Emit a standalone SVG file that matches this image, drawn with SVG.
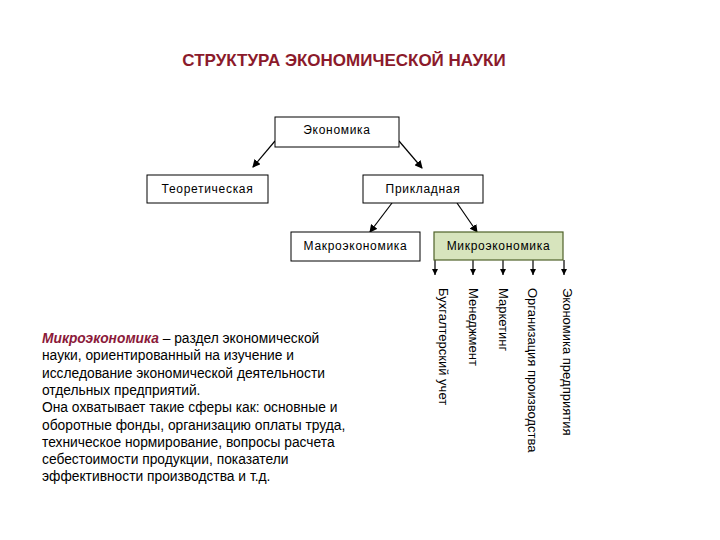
<svg xmlns="http://www.w3.org/2000/svg" width="720" height="540" viewBox="0 0 720 540">
<defs>
<style>
.box{fill:#ffffff;stroke:#000000;stroke-width:1}
.micro{fill:#d7e4bd;stroke:#4f6228;stroke-width:1.2}
.lbl{font-family:"Liberation Sans",Arial,sans-serif;font-size:12px;letter-spacing:0.7px;fill:#000;text-anchor:middle}
.vt{font-family:"Liberation Sans",Arial,sans-serif;font-size:13px;fill:#000}
.body{font-family:"Liberation Sans",Arial,sans-serif;font-size:13.8px;fill:#000}
.title{font-family:"Liberation Sans",Arial,sans-serif;font-size:17px;font-weight:bold;fill:#8b1a2b;text-anchor:middle}
.con{stroke:#000;stroke-width:1.2;fill:none}
</style>
<marker id="ah" markerWidth="8" markerHeight="8" refX="7" refY="4" orient="auto" markerUnits="userSpaceOnUse">
<path d="M0,0 L8,4 L0,8 Z" fill="#000"/>
</marker>
<marker id="ahs" markerWidth="6" markerHeight="6" refX="6" refY="3" orient="auto" markerUnits="userSpaceOnUse">
<path d="M0,0 L6,3 L0,6 Z" fill="#000"/>
</marker>
</defs>
<rect width="720" height="540" fill="#ffffff"/>
<text class="title" x="344" y="66">СТРУКТУРА ЭКОНОМИЧЕСКОЙ НАУКИ</text>

<g id="connectors">
<line class="con" x1="275" y1="141" x2="253" y2="167" marker-end="url(#ah)"/>
<line class="con" x1="399" y1="141" x2="422" y2="168" marker-end="url(#ah)"/>
<line class="con" x1="392" y1="203" x2="370" y2="232" marker-end="url(#ah)"/>
<line class="con" x1="457" y1="203" x2="477" y2="232" marker-end="url(#ah)"/>
<line class="con" x1="435" y1="260" x2="435" y2="275" marker-end="url(#ahs)"/>
<line class="con" x1="473" y1="260" x2="473" y2="275" marker-end="url(#ahs)"/>
<line class="con" x1="503" y1="260" x2="503" y2="275" marker-end="url(#ahs)"/>
<line class="con" x1="533" y1="260" x2="533" y2="275" marker-end="url(#ahs)"/>
<line class="con" x1="564" y1="260" x2="564" y2="275" marker-end="url(#ahs)"/>
</g>

<g id="n-economika">
<rect class="box" x="275" y="117" width="124" height="30"/>
<text class="lbl" x="337" y="134">Экономика</text>
</g>
<g id="n-teor">
<rect class="box" x="147" y="175" width="121" height="28"/>
<text class="lbl" x="207.5" y="193">Теоретическая</text>
</g>
<g id="n-prikl">
<rect class="box" x="363" y="175" width="120" height="28"/>
<text class="lbl" x="423" y="193">Прикладная</text>
</g>
<g id="n-makro">
<rect class="box" x="291" y="232" width="129" height="29"/>
<text class="lbl" x="355.5" y="250">Макроэкономика</text>
</g>
<g id="n-mikro">
<rect class="micro" x="434" y="232" width="129" height="28"/>
<text class="lbl" x="498.5" y="250">Микроэкономика</text>
</g>

<g id="n-buh"><text class="vt" transform="translate(439,288) rotate(90)">Бухгалтерский учет</text></g>
<g id="n-men"><text class="vt" transform="translate(469,288) rotate(90)">Менеджмент</text></g>
<g id="n-mark"><text class="vt" transform="translate(499,288) rotate(90)">Маркетинг</text></g>
<g id="n-org"><text class="vt" transform="translate(528,288) rotate(90)">Организация производства</text></g>
<g id="n-ekpr"><text class="vt" transform="translate(563,288) rotate(90)">Экономика предприятия</text></g>

<g id="description">
<text class="body" x="42" y="343"><tspan font-style="italic" font-weight="bold" fill="#8b1a3a">Микроэкономика</tspan> – раздел экономической</text>
<text class="body" x="42" y="360">науки, ориентированный на изучение и</text>
<text class="body" x="42" y="378">исследование экономической деятельности</text>
<text class="body" x="42" y="395">отдельных предприятий.</text>
<text class="body" x="42" y="412">Она охватывает такие сферы как: основные и</text>
<text class="body" x="42" y="430">оборотные фонды, организацию оплаты труда,</text>
<text class="body" x="42" y="447">техническое нормирование, вопросы расчета</text>
<text class="body" x="42" y="464">себестоимости продукции, показатели</text>
<text class="body" x="42" y="481">эффективности производства и т.д.</text>
</g>
</svg>
